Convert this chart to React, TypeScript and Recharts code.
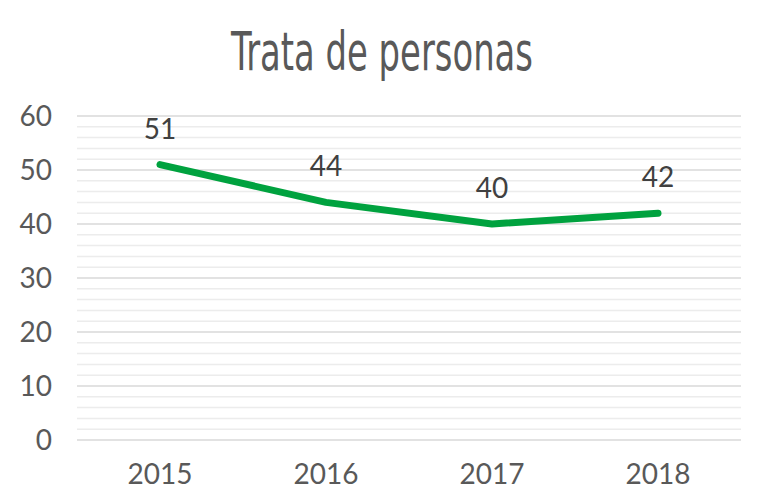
import React from "react";
import { LineChart, Line, XAxis, YAxis, CartesianGrid, ReferenceLine, LabelList } from "recharts";

const years = ["2015", "2016", "2017", "2018"];
const values = [51, 44, 40, 42];
const yTicks = [0, 10, 20, 30, 40, 50, 60];
const minorTicks = [2, 4, 6, 8, 12, 14, 16, 18, 22, 24, 26, 28, 32, 34, 36, 38, 42, 44, 46, 48, 52, 54, 56, 58];
const title = "Trata de personas";

const data = years.map((y, i) => ({ year: y, value: values[i] }));

const FONT = "Lato, 'DejaVu Sans', sans-serif";

export default function App() {
  return (
    <div style={{ margin: -8, width: 769, height: 498, background: "#fff" }}>
      <LineChart width={769} height={498} data={data} margin={{ top: 116, right: 28, bottom: 0, left: 0 }}>
        <text
          x={382}
          y={70}
          textAnchor="middle"
          textLength={302}
          lengthAdjust="spacingAndGlyphs"
          style={{ fontFamily: "'Liberation Sans Narrow', 'DejaVu Sans Condensed', sans-serif", fontSize: 54, fill: "#595959" }}
        >
          {title}
        </text>
        {minorTicks.map((t) => (
          <ReferenceLine key={t} y={t} stroke="#ececec" strokeWidth={1.5} ifOverflow="extendDomain" />
        ))}
        <CartesianGrid vertical={false} stroke="#d9d9d9" strokeWidth={1.5} />
        <XAxis
          dataKey="year"
          height={58}
          axisLine={false}
          tickLine={false}
          tickSize={0}
          tickMargin={24}
          padding={{ left: 83, right: 83 }}
          tick={{ fill: "#595959", fontSize: 28, fontFamily: FONT }}
        />
        <YAxis
          width={77}
          domain={[0, 60]}
          ticks={yTicks}
          axisLine={false}
          tickLine={false}
          tickSize={0}
          tickMargin={25}
          tick={{ fill: "#595959", fontSize: 28, fontFamily: FONT }}
        />
        <Line
          dataKey="value"
          stroke="#00a23f"
          strokeWidth={7}
          strokeLinecap="round"
          strokeLinejoin="round"
          dot={false}
          activeDot={false}
          isAnimationActive={false}
        >
          <LabelList dataKey="value" position="top" offset={26} style={{ fill: "#404040", fontSize: 28, fontFamily: FONT }} />
        </Line>
      </LineChart>
    </div>
  );
}
